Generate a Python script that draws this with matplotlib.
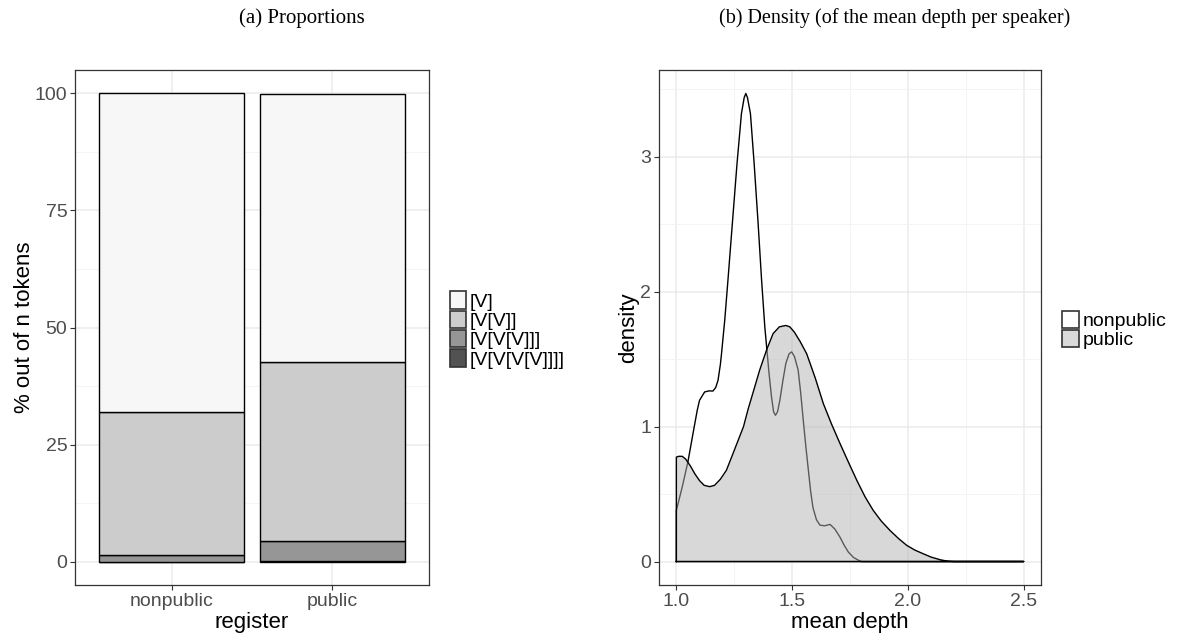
import numpy as np
import matplotlib
matplotlib.use("Agg")
import matplotlib.pyplot as plt
from matplotlib.patches import Patch

plt.rcParams['font.family'] = ['Liberation Sans', 'DejaVu Sans']

# (a) proportions, % of tokens per register
registers = ['nonpublic', 'public']
depth_levels = ['[V]', '[V[V]]', '[V[V[V]]]', '[V[V[V[V]]]]']
depth_colors = ['#f7f7f7', '#cccccc', '#969696', '#525252']
pct = {
    '[V]':          [68.0, 57.2],
    '[V[V]]':       [30.6, 38.4],
    '[V[V[V]]]':    [1.4, 4.2],
    '[V[V[V[V]]]]': [0.0, 0.1],
}

# (b) density of mean depth per speaker
np_x = [1.00, 1.025, 1.05, 1.072, 1.09, 1.10, 1.122, 1.14, 1.158, 1.17, 1.18, 1.19,
        1.195, 1.209, 1.223, 1.242, 1.262, 1.281, 1.293, 1.30, 1.307, 1.32, 1.336,
        1.353, 1.368, 1.382, 1.39, 1.40, 1.411, 1.42, 1.428, 1.437, 1.447, 1.46,
        1.473, 1.487, 1.498, 1.51, 1.526, 1.537, 1.548, 1.56, 1.57, 1.58, 1.59,
        1.605, 1.62, 1.64, 1.664, 1.685, 1.707, 1.725, 1.743, 1.765, 1.786, 1.80, 2.5]
np_y = [0.38, 0.55, 0.74, 0.95, 1.12, 1.195, 1.257, 1.265, 1.264, 1.29, 1.344, 1.46,
        1.54, 1.79, 2.09, 2.51, 2.95, 3.32, 3.44, 3.47, 3.44, 3.32, 2.95,
        2.51, 2.09, 1.74, 1.59, 1.40, 1.22, 1.11, 1.084, 1.11, 1.195, 1.34,
        1.47, 1.54, 1.554, 1.52, 1.42, 1.25, 1.05, 0.84, 0.68, 0.52, 0.40,
        0.31, 0.27, 0.265, 0.275, 0.24, 0.18, 0.12, 0.07, 0.03, 0.01, 0.0, 0.0]
pub_x = [1.00, 1.01, 1.025, 1.04, 1.06, 1.08, 1.10, 1.12, 1.144, 1.165, 1.19, 1.216,
         1.24, 1.265, 1.29, 1.31, 1.336, 1.36, 1.39, 1.418, 1.445, 1.473, 1.49, 1.51,
         1.535, 1.563, 1.60, 1.635, 1.67, 1.707, 1.745, 1.78, 1.815, 1.85, 1.885,
         1.923, 1.96, 1.995, 2.03, 2.067, 2.10, 2.14, 2.17, 2.20, 2.5]
pub_y = [0.774, 0.78, 0.78, 0.76, 0.71, 0.65, 0.60, 0.565, 0.555, 0.565, 0.61, 0.676,
         0.78, 0.89, 1.0, 1.13, 1.28, 1.42, 1.57, 1.69, 1.74, 1.75, 1.74, 1.70,
         1.63, 1.54, 1.36, 1.17, 1.02, 0.874, 0.73, 0.60, 0.48, 0.38, 0.30,
         0.23, 0.17, 0.12, 0.085, 0.057, 0.033, 0.013, 0.003, 0.0, 0.0]

fig = plt.figure(figsize=(11.8, 6.37), dpi=100)
ax1 = fig.add_axes([75 / 1180, 52 / 637, 354 / 1180, 515 / 637])
ax2 = fig.add_axes([659 / 1180, 52 / 637, 382 / 1180, 515 / 637])

tick_col = '#4d4d4d'
frame_col = '#333333'


def style(ax):
    ax.set_facecolor('white')
    ax.grid(True, which='major', color='#ebebeb', linewidth=1.1, zorder=0)
    ax.grid(True, which='minor', color='#f2f2f2', linewidth=0.6, zorder=0)
    ax.set_axisbelow(True)
    for s in ax.spines.values():
        s.set_color(frame_col)
        s.set_linewidth(0.9)
    ax.tick_params(which='major', length=3.5, width=0.8, color=frame_col,
                   labelsize=14, labelcolor=tick_col, pad=2)
    ax.tick_params(which='minor', length=0)


# ---- (a) stacked bars
xpos = np.arange(1, len(registers) + 1)
bottom = np.zeros(len(registers))
stack = list(zip(depth_levels, depth_colors))[::-1]
for lvl, col in stack:
    vals = np.array(pct[lvl])
    ax1.bar(xpos, vals, width=0.9, bottom=bottom, color=col,
            edgecolor='black', linewidth=1.0, zorder=2)
    bottom += vals

ax1.set_xlim(0.4, 2.6)
ax1.set_ylim(-5, 105)
ax1.set_xticks(xpos)
ax1.set_xticklabels(registers)
ax1.set_yticks([0, 25, 50, 75, 100])
ax1.set_yticks([12.5, 37.5, 62.5, 87.5], minor=True)
style(ax1)
ax1.set_xlabel('register', fontsize=16, labelpad=2)
ax1.set_ylabel('% out of n tokens', fontsize=16, labelpad=0)

h1 = [Patch(facecolor=c, edgecolor='#333333', linewidth=1.2) for c in depth_colors]
ax1.legend(h1, depth_levels, loc='center left', bbox_to_anchor=(1.058, 0.495),
           frameon=False, fontsize=14, handlelength=0.85, handleheight=1.0,
           labelspacing=0.0, handletextpad=0.2, borderpad=0, borderaxespad=0)

# ---- (b) densities
ax2.fill_between(np_x, np_y, color='white', zorder=2)
ax2.plot([np_x[0]] + np_x + [np_x[0]], [0] + np_y + [0], color='black',
         linewidth=1.0, zorder=3)
ax2.fill_between(pub_x, pub_y, color='#b3b3b3', alpha=0.5, linewidth=0, zorder=4)
ax2.plot([pub_x[0]] + pub_x + [pub_x[0]], [0] + pub_y + [0], color='black',
         linewidth=1.0, zorder=5)

ax2.set_xlim(0.925, 2.575)
ax2.set_ylim(-0.174, 3.644)
ax2.set_xticks([1.0, 1.5, 2.0, 2.5])
ax2.set_xticks([1.25, 1.75, 2.25], minor=True)
ax2.set_yticks([0, 1, 2, 3])
ax2.set_yticks([0.5, 1.5, 2.5, 3.5], minor=True)
style(ax2)
ax2.set_xlabel('mean depth', fontsize=16, labelpad=2)
ax2.set_ylabel('density', fontsize=16, labelpad=1)

h2 = [Patch(facecolor='white', edgecolor='#333333', linewidth=1.2),
      Patch(facecolor='#dadada', edgecolor='#333333', linewidth=1.2)]
ax2.legend(h2, ['nonpublic', 'public'], loc='center left', bbox_to_anchor=(1.055, 0.495),
           frameon=False, fontsize=14, handlelength=0.85, handleheight=1.0,
           labelspacing=0.0, handletextpad=0.2, borderpad=0, borderaxespad=0)

# panel titles, centred on each half of the figure
fig.text(302 / 1180, 1 - 18 / 637, '(a) Proportions', family=['Liberation Serif'],
         fontsize=15, ha='center', va='center')
fig.text(895 / 1180, 1 - 18 / 637, '(b) Density (of the mean depth per speaker)',
         family=['Liberation Serif'], fontsize=14.5, ha='center', va='center')

fig.savefig('out.png', dpi=100)
